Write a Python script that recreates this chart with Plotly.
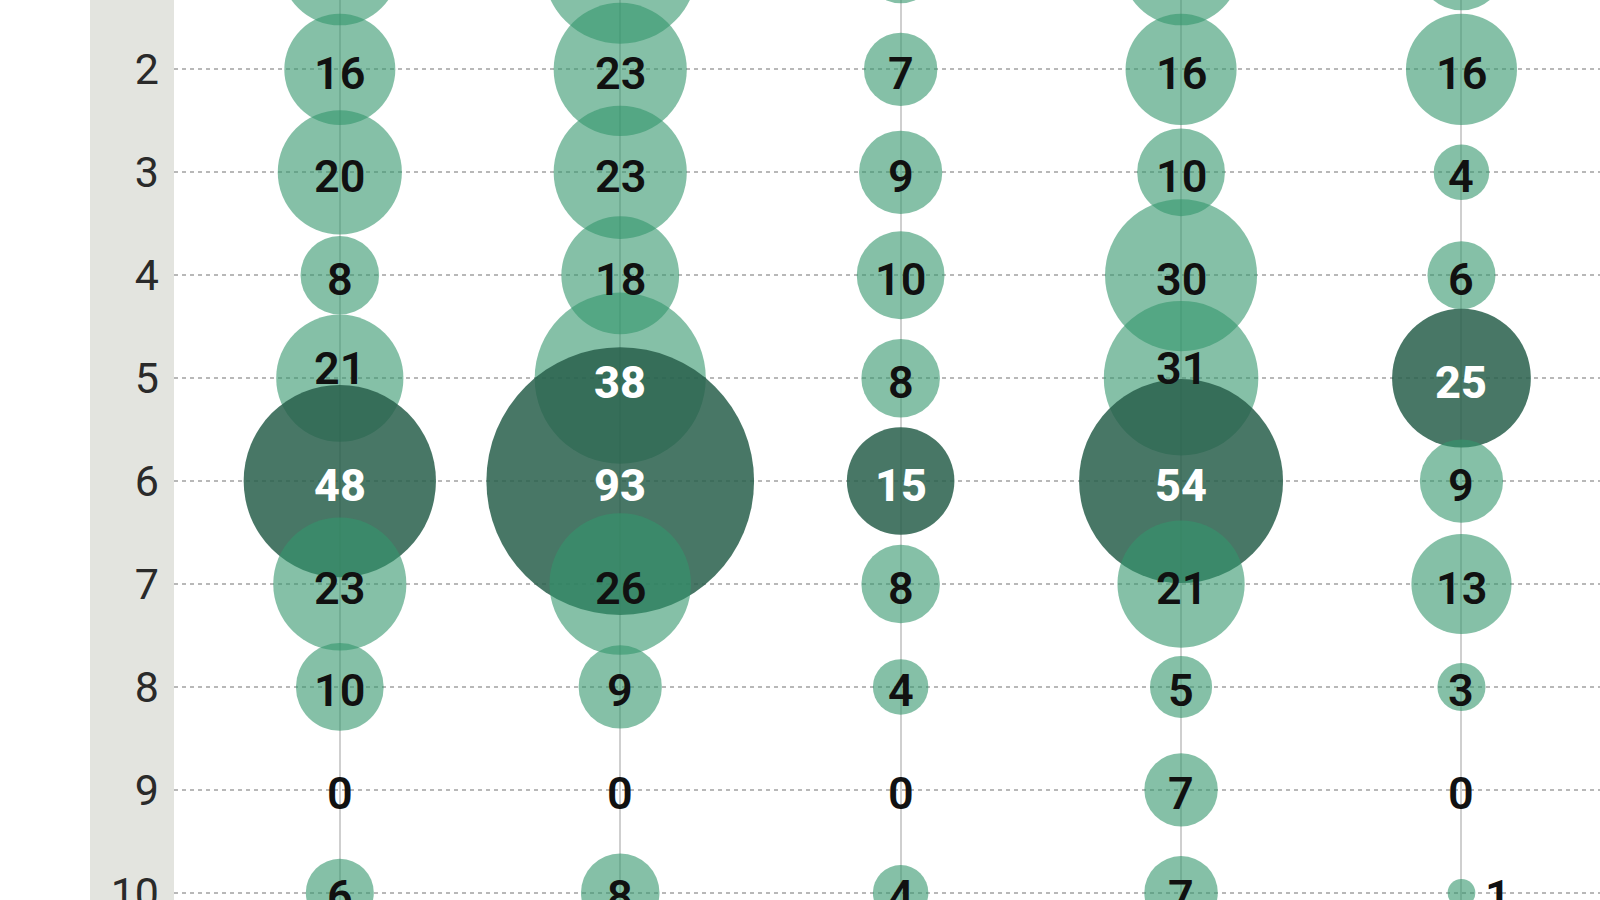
import plotly.graph_objects as go

# rows (y) and five columns of counts
rows = [1, 2, 3, 4, 5, 6, 7, 8, 9, 10]
row_labels = [str(r) for r in rows]
columns = [1, 2, 3, 4, 5]

col1 = [18, 16, 20, 8, 21, 48, 23, 10, 0, 6]
col2 = [31, 23, 23, 18, 38, 93, 26, 9, 0, 8]
col3 = [7, 7, 9, 10, 8, 15, 8, 4, 0, 4]
col4 = [18, 16, 10, 30, 31, 54, 21, 5, 7, 7]
col5 = [10, 16, 4, 6, 25, 9, 13, 3, 0, 1]

series = [col1, col2, col3, col4, col5]

LIGHT = "rgba(52,150,108,0.6)"
DARK = "rgba(40,95,75,0.85)"
FONT = "Roboto"
K = 13.88          # bubble radius in px per sqrt(value)
ROW_PX = 102.9     # pixel distance between rows

fig = go.Figure()

for cx, vals in zip(columns, series):
    top = max(vals)
    i_top = vals.index(top)
    r_top = K * top ** 0.5
    fig.add_trace(go.Scatter(
        x=[cx] * len(vals),
        y=rows,
        mode="markers",
        marker=dict(
            size=vals,
            sizemode="area",
            sizeref=1 / (2 * K ** 2),
            color=[DARK if v == top else LIGHT for v in vals],
            opacity=1,
            line=dict(width=0),
        ),
        hoverinfo="skip",
        showlegend=False,
    ))
    # value labels
    for i, (r, v) in enumerate(zip(rows, vals)):
        small = 0 < v < 2
        gap = (i_top - i) * ROW_PX
        # label sits under the (later drawn) dark bubble -> white text
        under_dark = 0 < gap < r_top
        # dark bubble edge just below the label -> lift the label a bit
        lift = 0 < gap - r_top < 25
        white = v == top or under_dark
        fig.add_annotation(
            x=cx, y=r, text=str(v), showarrow=False,
            xanchor="left" if small else "center",
            xshift=22 if small else 0,
            yshift=10 if lift else -4,
            font=dict(family=FONT, size=45,
                      color="white" if white else "#111111",
                      weight=800 if white else 600),
        )

# grey band behind the row labels
fig.add_shape(type="rect", xref="paper", yref="paper",
              x0=-84 / 1426, x1=0, y0=0, y1=1,
              fillcolor="#e3e4df", line=dict(width=0), layer="below")

fig.update_layout(
    width=1600, height=900,
    margin=dict(l=174, r=0, t=0, b=0, autoexpand=False),
    paper_bgcolor="white",
    plot_bgcolor="white",
    xaxis=dict(
        range=[0.4087, 5.494],
        tickvals=columns,
        showticklabels=False,
        showgrid=True, gridcolor="#cfcfcf", gridwidth=1.5,
        zeroline=False, showline=False, ticks="",
        automargin=False,
    ),
    yaxis=dict(
        range=[10.07, 1.3258],
        tickvals=rows,
        ticktext=row_labels,
        tickfont=dict(family=FONT, size=43, color="#2a2a2a"),
        ticks="",
        ticklabelstandoff=14,
        ticklabeloverflow="allow",
        automargin=False,
        showgrid=True, gridcolor="#b8b8b8", gridwidth=2, griddash="4px,4px",
        zeroline=False, showline=False,
    ),
)

# drop the page margin so the 1600x900 figure fills the window exactly
fig.write_html("out.html",
               config={"displayModeBar": False},
               post_script="document.body.style.margin='0';document.body.style.overflow='hidden';")
